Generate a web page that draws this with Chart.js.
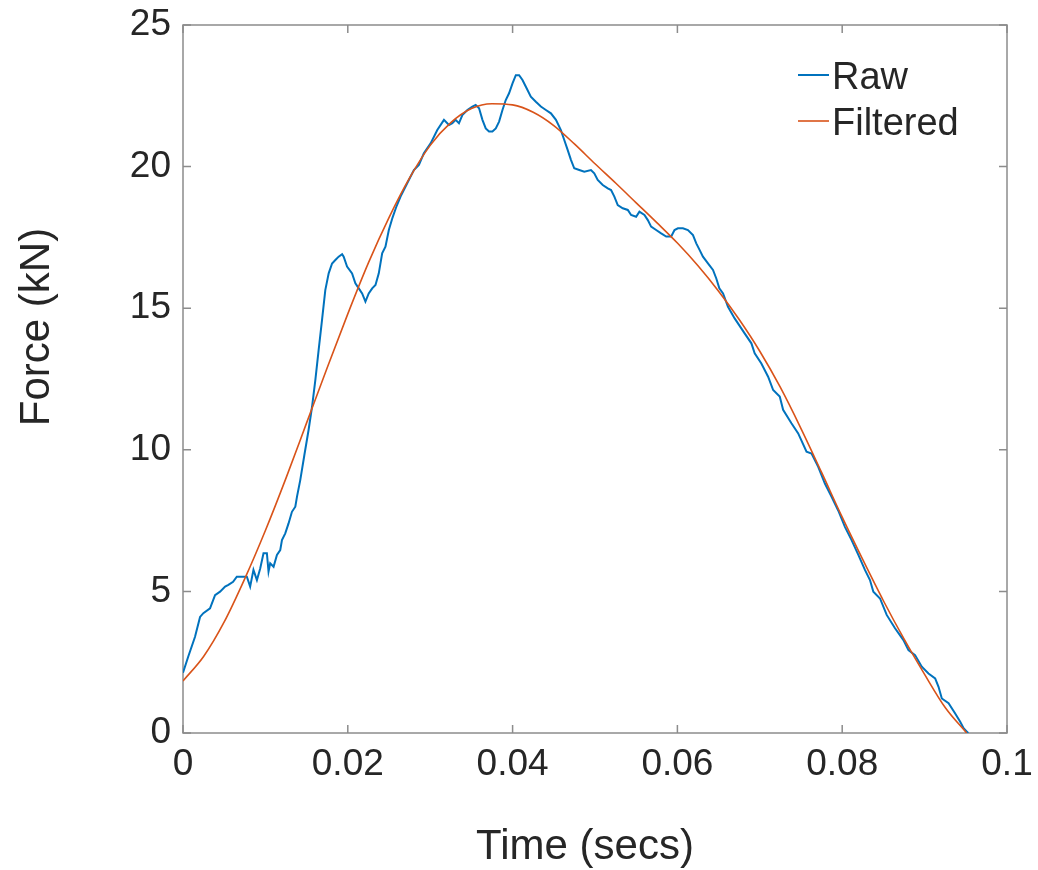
<!DOCTYPE html>
<html><head><meta charset="utf-8">
<script src="https://cdn.jsdelivr.net/npm/chart.js@4.4.1/dist/chart.umd.min.js"></script>
<style>html,body{margin:0;padding:0;background:#fff;}canvas{display:block;}</style>
</head><body>
<canvas id="c" width="1038" height="870"></canvas>
<script>
const rawTime = [
  0, 0.00064, 0.00146, 0.00207, 0.00247, 0.00328, 0.00389, 0.00450, 0.00511, 0.00551,
  0.00608, 0.00653, 0.00714, 0.00775, 0.00815, 0.00855, 0.00897, 0.00937, 0.00977, 0.01018,
  0.01038, 0.01058, 0.01099, 0.01140, 0.01180, 0.01201, 0.01241, 0.01281, 0.01322, 0.01363,
  0.01383, 0.01423, 0.01472, 0.01524, 0.01566, 0.01606, 0.01646, 0.01687, 0.01727, 0.01768,
  0.01809, 0.01849, 0.01889, 0.01931, 0.01950, 0.01991, 0.02052, 0.02092, 0.02133, 0.02174,
  0.02214, 0.02254, 0.02296, 0.02336, 0.02376, 0.02417, 0.02457, 0.02498, 0.02543, 0.02591,
  0.02640, 0.02721, 0.02802, 0.02863, 0.02923, 0.03005, 0.03086, 0.03167, 0.03228, 0.03269,
  0.03309, 0.03349, 0.03390, 0.03451, 0.03512, 0.03552, 0.03593, 0.03634, 0.03674, 0.03714,
  0.03755, 0.03796, 0.03836, 0.03877, 0.03917, 0.03957, 0.03999, 0.04039, 0.04079, 0.04120,
  0.04161, 0.04221, 0.04282, 0.04343, 0.04404, 0.04465, 0.04526, 0.04586, 0.04627, 0.04668,
  0.04708, 0.04748, 0.04809, 0.04870, 0.04951, 0.04991, 0.05033, 0.05094, 0.05155, 0.05195,
  0.05235, 0.05276, 0.05337, 0.05398, 0.05438, 0.05499, 0.05539, 0.05600, 0.05641, 0.05681,
  0.05742, 0.05803, 0.05864, 0.05925, 0.05965, 0.06006, 0.06067, 0.06128, 0.06189, 0.06229,
  0.06269, 0.06310, 0.06371, 0.06432, 0.06472, 0.06509, 0.06554, 0.06614, 0.06695, 0.06816,
  0.06898, 0.06938, 0.07019, 0.07101, 0.07162, 0.07242, 0.07283, 0.07384, 0.07466, 0.07567,
  0.07628, 0.07709, 0.07790, 0.07871, 0.07953, 0.08033, 0.08114, 0.08196, 0.08276, 0.08337,
  0.08378, 0.08459, 0.08540, 0.08641, 0.08743, 0.08804, 0.08884, 0.08966, 0.09047, 0.09128,
  0.09169, 0.09209, 0.09291, 0.09371, 0.09432, 0.09473, 0.09513, 0.09530
];
const rawForce = [
  2.13, 2.70, 3.40, 4.10, 4.23, 4.40, 4.87, 4.99, 5.17, 5.23,
  5.34, 5.52, 5.52, 5.52, 5.17, 5.76, 5.40, 5.81, 6.35, 6.35,
  5.70, 5.99, 5.87, 6.29, 6.46, 6.81, 7.05, 7.40, 7.81, 7.99,
  8.34, 8.93, 9.80, 10.70, 11.52, 12.46, 13.52, 14.58, 15.64, 16.23,
  16.58, 16.70, 16.82, 16.91, 16.82, 16.47, 16.23, 15.88, 15.70, 15.52,
  15.23, 15.52, 15.70, 15.82, 16.23, 16.94, 17.17, 17.76, 18.20, 18.60,
  18.94, 19.41, 19.88, 20.06, 20.47, 20.82, 21.29, 21.65, 21.47, 21.53,
  21.65, 21.53, 21.82, 22.00, 22.12, 22.18, 22.06, 21.65, 21.35, 21.24,
  21.24, 21.35, 21.59, 22.00, 22.35, 22.59, 22.94, 23.23, 23.23, 23.06,
  22.82, 22.47, 22.29, 22.12, 22.00, 21.88, 21.65, 21.29, 20.94, 20.59,
  20.24, 19.94, 19.88, 19.82, 19.88, 19.76, 19.53, 19.35, 19.23, 19.17,
  18.94, 18.64, 18.53, 18.47, 18.29, 18.23, 18.41, 18.29, 18.11, 17.88,
  17.76, 17.64, 17.53, 17.53, 17.76, 17.82, 17.82, 17.76, 17.58, 17.29,
  17.06, 16.82, 16.58, 16.35, 16.05, 15.70, 15.52, 15.05, 14.64, 14.11,
  13.76, 13.41, 13.05, 12.58, 12.11, 11.88, 11.41, 10.94, 10.58, 9.93,
  9.87, 9.40, 8.81, 8.34, 7.85, 7.28, 6.81, 6.29, 5.76, 5.40,
  4.99, 4.75, 4.17, 3.70, 3.28, 2.93, 2.75, 2.34, 2.10, 1.93,
  1.63, 1.22, 1.05, 0.69, 0.40, 0.17, 0.05, 0.00
];
const filteredTime = [
  0, 0.0025, 0.005, 0.0075, 0.01, 0.0125, 0.015, 0.0175, 0.02, 0.0225,
  0.025, 0.0275, 0.03, 0.0325, 0.035, 0.0375, 0.04, 0.0425, 0.045, 0.0475,
  0.05, 0.0525, 0.055, 0.0575, 0.06, 0.0625, 0.065, 0.0675, 0.07, 0.0725,
  0.075, 0.0775, 0.08, 0.0825, 0.085, 0.0875, 0.09, 0.0925, 0.0951
];
const filteredForce = [
  1.84, 2.70, 3.92, 5.45, 7.15, 9.00, 10.95, 12.90, 14.80, 16.60,
  18.20, 19.60, 20.75, 21.55, 22.05, 22.22, 22.18, 21.92, 21.45, 20.80,
  20.10, 19.42, 18.72, 18.02, 17.30, 16.50, 15.60, 14.60, 13.48, 12.20,
  10.75, 9.20, 7.62, 6.12, 4.67, 3.32, 2.07, 0.90, 0.00
];
const xTickValues = [0, 0.02, 0.04, 0.06, 0.08, 0.1];
const xTickLabels = ['0', '0.02', '0.04', '0.06', '0.08', '0.1'];
const yTickValues = [0, 5, 10, 15, 20, 25];
const yTickLabels = ['0', '5', '10', '15', '20', '25'];
const seriesLabels = ['Raw', 'Filtered'];
const seriesColors = ['#0072BD', '#D95319'];
const xTitle = 'Time (secs)';
const yTitle = 'Force (kN)';

const FONT = '"Liberation Sans", Arial, Helvetica, sans-serif';
const TEXT = '#262626';
const AXIS = '#8c8c8c';

const framePlugin = {
  id: 'matlabFrame',
  beforeDatasetsDraw(chart) {
    const {ctx, chartArea: a, scales: {x, y}} = chart;
    ctx.save();
    ctx.strokeStyle = AXIS;
    ctx.lineWidth = 1.5;
    ctx.strokeRect(a.left, a.top, a.right - a.left, a.bottom - a.top);
    ctx.beginPath();
    const L = 8;
    xTickValues.forEach(v => {
      const px = x.getPixelForValue(v);
      ctx.moveTo(px, a.bottom); ctx.lineTo(px, a.bottom - L);
      ctx.moveTo(px, a.top); ctx.lineTo(px, a.top + L);
    });
    yTickValues.forEach(v => {
      const py = y.getPixelForValue(v);
      ctx.moveTo(a.left, py); ctx.lineTo(a.left + L, py);
      ctx.moveTo(a.right, py); ctx.lineTo(a.right - L, py);
    });
    ctx.stroke();
    ctx.restore();
  },
  afterDraw(chart) {
    const {ctx} = chart;
    ctx.save();
    ctx.fillStyle = TEXT;
    ctx.font = '42px ' + FONT;
    ctx.textAlign = 'center';
    ctx.textBaseline = 'alphabetic';
    ctx.fillText(xTitle, 585, 859);
    ctx.save();
    ctx.translate(49, 327);
    ctx.rotate(-Math.PI / 2);
    ctx.fillText(yTitle, 0, 0);
    ctx.restore();
    const rows = [75, 121];
    chart.data.datasets.forEach((ds, i) => {
      const yy = rows[i];
      ctx.strokeStyle = ds.borderColor;
      ctx.lineWidth = ds.borderWidth;
      ctx.beginPath();
      ctx.moveTo(798, yy); ctx.lineTo(829, yy);
      ctx.stroke();
      ctx.font = '38px ' + FONT;
      ctx.textAlign = 'left';
      ctx.fillStyle = TEXT;
      ctx.fillText(ds.label, 832, yy + 13.5);
    });
    ctx.restore();
  }
};

new Chart(document.getElementById('c'), {
  type: 'line',
  data: {
    datasets: [
      {
        label: seriesLabels[0],
        data: rawTime.map((t, i) => ({x: t, y: rawForce[i]})),
        borderColor: seriesColors[0],
        borderWidth: 2,
        pointRadius: 0,
        tension: 0,
        fill: false,
        order: 1
      },
      {
        label: seriesLabels[1],
        data: filteredTime.map((t, i) => ({x: t, y: filteredForce[i]})),
        borderColor: seriesColors[1],
        borderWidth: 1.6,
        pointRadius: 0,
        cubicInterpolationMode: 'monotone',
        fill: false,
        order: 0
      }
    ]
  },
  options: {
    responsive: false,
    animation: false,
    layout: {padding: {top: 25, right: 31, left: 0, bottom: 0}},
    plugins: {legend: {display: false}, tooltip: {enabled: false}},
    scales: {
      x: {
        type: 'linear',
        min: 0, max: 0.1,
        afterBuildTicks: s => { s.ticks = xTickValues.map(v => ({value: v})); },
        afterFit: s => { s.height = 137; s.paddingLeft = 0; s.paddingRight = 0; },
        grid: {display: false, drawTicks: false},
        border: {display: false},
        ticks: {
          callback: (v, i) => xTickLabels[i],
          font: {family: FONT, size: 37},
          color: TEXT,
          padding: 10,
          maxRotation: 0
        }
      },
      y: {
        type: 'linear',
        min: 0, max: 25,
        afterBuildTicks: s => { s.ticks = yTickValues.map(v => ({value: v})); },
        afterFit: s => { s.width = 183; s.paddingTop = 0; s.paddingBottom = 0; },
        grid: {display: false, drawTicks: false},
        border: {display: false},
        ticks: {
          callback: (v, i) => yTickLabels[i],
          font: {family: FONT, size: 37},
          color: TEXT,
          padding: 12
        }
      }
    }
  },
  plugins: [framePlugin]
});
</script>
</body></html>
